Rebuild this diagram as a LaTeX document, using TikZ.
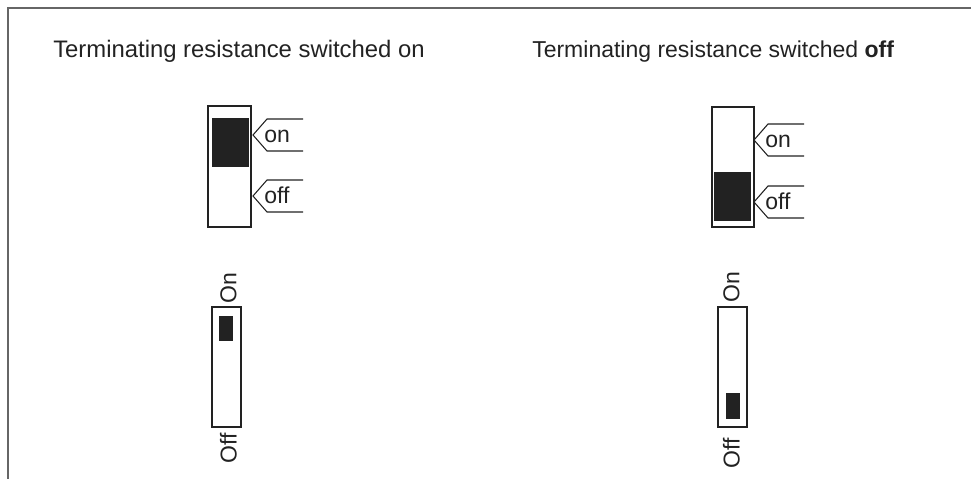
\documentclass[tikz,border=0pt]{standalone}
\usepackage{fontspec}
\setmainfont{Liberation Sans}
\usepackage{tikz}
\usetikzlibrary{positioning,calc}
\definecolor{FrameGray}{HTML}{666666}
\definecolor{KnobBlack}{HTML}{222222}
\definecolor{InkGray}{HTML}{222222}
\tikzset{
  swtext/.style={inner sep=0pt,text=InkGray,font=\fontsize{17.25}{20}\selectfont},
  swbox/.style={draw=InkGray,line width=0.8pt},
  knob/.style={fill=KnobBlack},
  tabline/.style={draw=InkGray,line width=0.8pt,line join=miter}
}
\begin{document}
\begin{tikzpicture}[x=0.75pt,y=-0.75pt]
  \useasboundingbox (0,0) rectangle (971,479);
  \draw[FrameGray,line width=1.1pt] (971,8) -- (8,8) -- (8,479);
  % titles
  \node[swtext,anchor=base west,font=\fontsize{17.9}{20}\selectfont] (titleOn) at (53,57) {Terminating resistance switched on};
  \node[swtext,anchor=base west] (titleOff) at (532,57) {Terminating resistance switched \textbf{off}};
  % large switches
  \draw[swbox] (208,106) rectangle (251,227);
  \fill[knob] (212,118) rectangle (249,167);
  \draw[swbox] (712,107) rectangle (754,227);
  \fill[knob] (714,172) rectangle (751,221);
  \foreach \tx/\ty/\lab [count=\i] in {253/135/on,253/196/off,754/140/on,754/202/off} {
    \draw[tabline] (\tx+50,\ty-16) -- (\tx+14,\ty-16) -- (\tx,\ty)
      -- (\tx+14,\ty+16) -- (\tx+50,\ty+16);
    \node[swtext,anchor=base west] (tab\i) at (\tx+11,\ty+7) {\lab};
  }
  % small switches
  \draw[swbox] (212,307) rectangle (241,427);
  \fill[knob] (219,316) rectangle (233,341);
  \node[swtext,rotate=90] (onA) at (228.5,288) {On};
  \node[swtext,rotate=90] (offA) at (228.5,448.5) {Off};
  \draw[swbox] (718,307) rectangle (747,427);
  \fill[knob] (726,393) rectangle (740,419);
  \node[swtext,rotate=90] (onB) at (731.5,287) {On};
  \node[swtext,rotate=90] (offB) at (731.5,453) {Off};
\end{tikzpicture}
\end{document}
